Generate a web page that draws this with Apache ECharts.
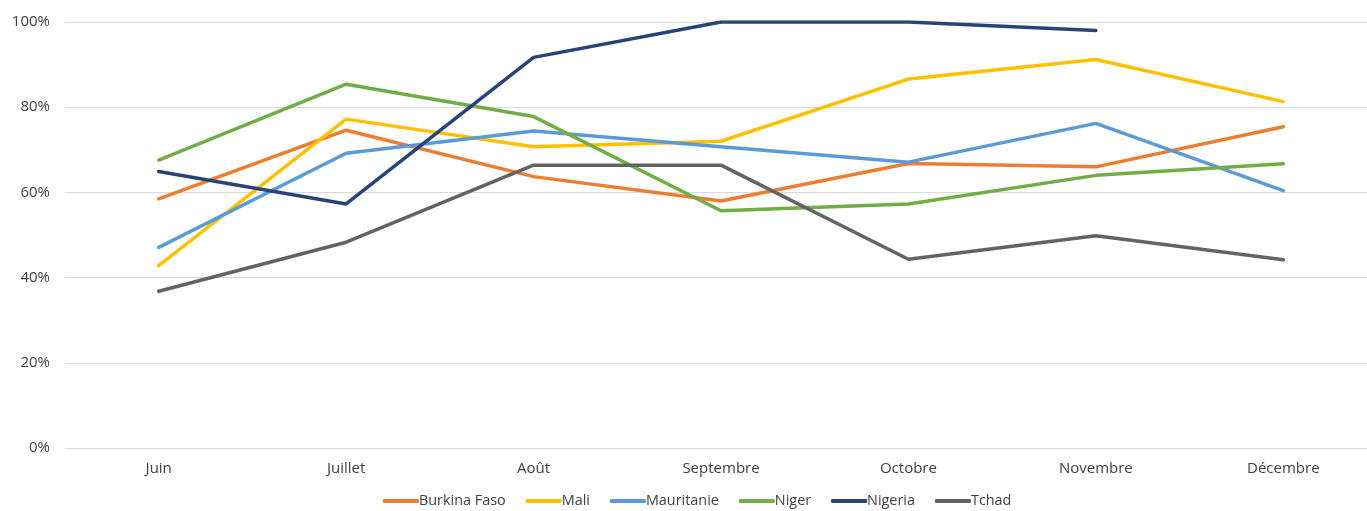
<!DOCTYPE html>
<html>
<head>
<meta charset="utf-8">
<style>
  html, body { margin: 0; padding: 0; background: #fff; overflow: hidden; }
  #main { width: 1377px; height: 511px; }
</style>
</head>
<body>
<div id="main"></div>
<script src="https://cdn.jsdelivr.net/npm/echarts@6/dist/echarts.min.js"></script>
<script type="text/javascript">
    // données (%)
    var mois = ['Juin', 'Juillet', 'Août', 'Septembre', 'Octobre', 'Novembre', 'Décembre'];
    var burkinaFaso = [58.5, 74.6, 63.7, 58.0, 66.8, 66.0, 75.4];
    var mali = [42.8, 77.2, 70.7, 72.0, 86.6, 91.2, 81.3];
    var mauritanie = [47.1, 69.2, 74.4, 70.7, 67.1, 76.2, 60.4];
    var niger = [67.6, 85.4, 77.8, 55.7, 57.3, 64.0, 66.7];
    var nigeria = [64.9, 57.3, 91.7, 100, 100, 98.0, null];
    var tchad = [36.8, 48.3, 66.4, 66.4, 44.3, 49.8, 44.2];

    var noms = ['Burkina Faso', 'Mali', 'Mauritanie', 'Niger', 'Nigeria', 'Tchad'];
    var couleurs = ['#ED7D31', '#FFC000', '#5B9BD5', '#70AD47', '#264478', '#636363'];
    var valeurs = [burkinaFaso, mali, mauritanie, niger, nigeria, tchad];

    var police = '"Open Sans", sans-serif';
    var myChart = echarts.init(document.getElementById('main'));

    var series = [];
    noms.forEach(function(nom, i){
        series.push({
            name: nom,
            type: 'line',
            data: valeurs[i],
            symbol: 'none',
            lineStyle: { width: 3.5, color: couleurs[i], cap: 'round', join: 'round' },
            itemStyle: { color: couleurs[i] }
        });
    });

    var option = {
        animation: false,
        textStyle: { fontFamily: police },
        grid: { left: 65, right: 0, top: 22, bottom: 63 },
        legend: {
            data: noms,
            bottom: -2,
            left: 378,
            itemWidth: 36,
            itemHeight: 4,
            itemGap: 20,
            icon: 'roundRect',
            textStyle: { color: '#404040', fontSize: 14.4, fontFamily: police, padding: [0, 0, 0, -5] }
        },
        xAxis: {
            type: 'category',
            data: mois,
            boundaryGap: true,
            axisLine: { show: false },
            axisTick: { show: false },
            axisLabel: { color: '#404040', fontSize: 15, margin: 13 }
        },
        yAxis: {
            type: 'value',
            min: 0,
            max: 100,
            interval: 20,
            axisLine: { show: false },
            axisTick: { show: false },
            splitLine: { lineStyle: { color: '#D9D9D9', width: 1 } },
            axisLabel: { color: '#404040', fontSize: 15, margin: 15, formatter: '{value}%' }
        },
        series: series
    };

    myChart.setOption(option);
</script>
</body>
</html>
